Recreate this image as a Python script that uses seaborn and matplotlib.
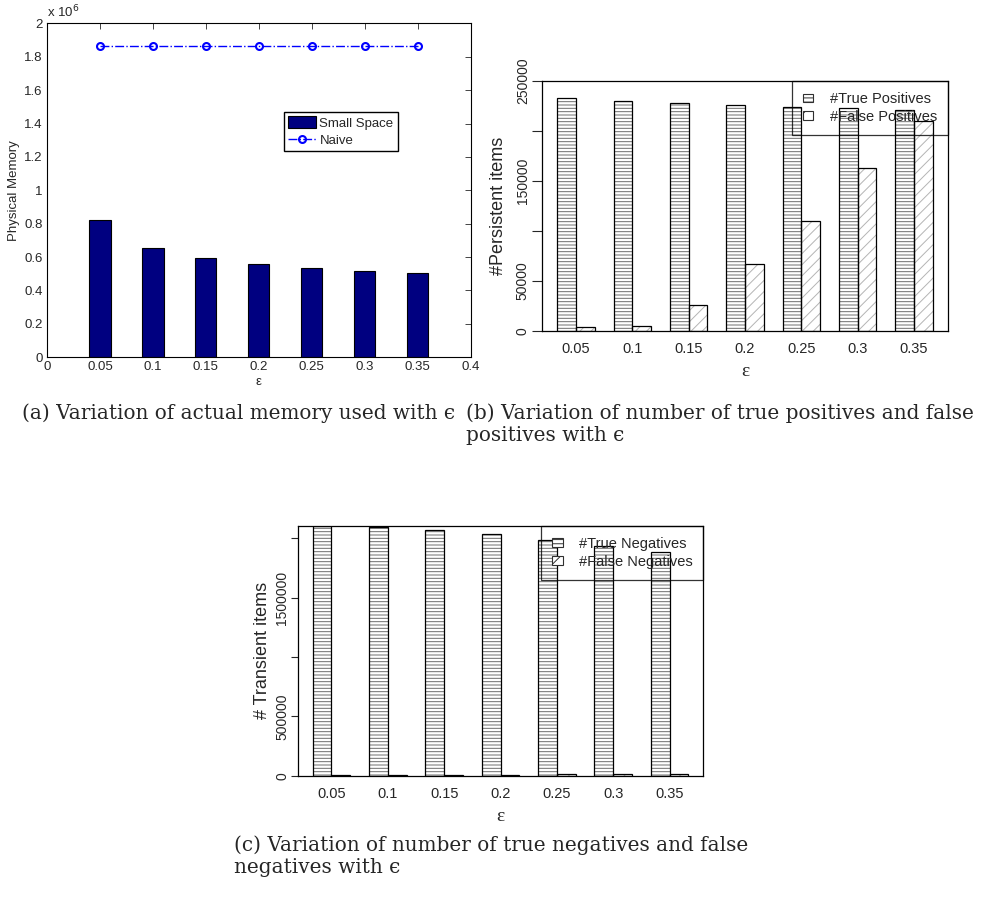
import numpy as np
import pandas as pd
import matplotlib
matplotlib.use("Agg")
import matplotlib.pyplot as plt
from matplotlib.patches import Patch
from matplotlib.lines import Line2D
from matplotlib.ticker import FuncFormatter
import seaborn as sns

sns.set_style("white")
plt.rcParams["font.family"] = ["Liberation Sans", "DejaVu Sans"]
plt.rcParams["hatch.linewidth"] = 0.7

# ---- data -------------------------------------------------------------
eps_values = [0.05, 0.10, 0.15, 0.20, 0.25, 0.30, 0.35]
eps_labels = ["0.05", "0.1", "0.15", "0.2", "0.25", "0.3", "0.35"]

memory_small_space = [822000, 656000, 595000, 557000, 535000, 519000, 507000]
memory_naive = [1866000, 1866000, 1866000, 1866000, 1866000, 1866000, 1866000]

true_positives = [233000, 229700, 228000, 225700, 224000, 222700, 221300]
false_positives = [3700, 5300, 25700, 66800, 110500, 163600, 210000]

true_negatives = [2100000, 2097000, 2073000, 2034000, 1986000, 1936000, 1885000]
false_negatives = [4000, 5000, 7000, 9000, 11000, 12000, 14000]

mem_yticks = [0, 200000, 400000, 600000, 800000, 1000000, 1200000,
              1400000, 1600000, 1800000, 2000000]
mem_xticks = [0, 0.05, 0.1, 0.15, 0.2, 0.25, 0.3, 0.35, 0.4]

pos_yticks = [0, 50000, 100000, 150000, 200000, 250000]
pos_ylabels = ["0", "50000", "", "150000", "", "250000"]
neg_yticks = [0, 500000, 1000000, 1500000, 2000000]
neg_ylabels = ["0", "500000", "", "1500000", ""]

TP_HATCH, FP_HATCH = "-----", "///"
TP_HATCH_COLOR, FP_HATCH_COLOR = "#6e6e6e", "#b4b4b4"

fig = plt.figure(figsize=(9.87, 8.97), dpi=100)
fig.patch.set_facecolor("white")

# ---- (a) memory -------------------------------------------------------
axA = fig.add_axes([0.0476, 0.6017, 0.4293, 0.3723])
sns.barplot(x=eps_values, y=memory_small_space, native_scale=True, width=0.4,
            color="#000080", saturation=1, edgecolor="black", linewidth=0.8,
            errorbar=None, ax=axA)
sns.lineplot(x=eps_values, y=memory_naive, color="blue", linestyle="-.",
             linewidth=1.0, marker="o", markersize=5, markerfacecolor="none",
             markeredgecolor="blue", markeredgewidth=1.5, errorbar=None,
             ax=axA)
axA.set_xlim(0, 0.4)
axA.set_ylim(0, 2000000)
axA.set_xticks(mem_xticks)
axA.set_yticks(mem_yticks)
axA.xaxis.set_major_formatter(FuncFormatter(lambda v, _: f"{v:g}"))
axA.yaxis.set_major_formatter(FuncFormatter(lambda v, _: f"{v / 1e6:g}"))
axA.tick_params(direction="in", top=True, right=True, length=4, width=0.6,
                labelsize=9.5, pad=3)
for s in axA.spines.values():
    s.set_visible(True)
    s.set_linewidth(0.8)
    s.set_color("black")
axA.set_xlabel("ε", fontsize=9.5, labelpad=2)
axA.set_ylabel("Physical Memory", fontsize=9.5, labelpad=3)
axA.text(0.0, 1.008, r"x 10$^{6}$", transform=axA.transAxes, fontsize=9.5,
         ha="left", va="bottom")
legA = axA.legend(
    handles=[Patch(facecolor="#000080", edgecolor="black", linewidth=0.8),
             Line2D([], [], color="blue", linestyle="-.", linewidth=1.0,
                    marker="o", markersize=5, markerfacecolor="none",
                    markeredgewidth=1.5)],
    labels=["Small Space", "Naive"], loc="upper left",
    bbox_to_anchor=(0.559, 0.735), fontsize=9.5, frameon=True,
    fancybox=False, edgecolor="black", framealpha=1, borderpad=0.35,
    handlelength=2.1, handleheight=0.95, handletextpad=0.25,
    labelspacing=0.3, borderaxespad=0)
legA.get_frame().set_linewidth(1.0)


def hatched_bars(ax, df, hue_order, hatches, hatch_colors, ylim, yticks,
                 ylabels, ylabel, tick_len, tick_pad, ylabelpad):
    # hatched fill layer
    sns.barplot(data=df, x="eps", y="count", hue="kind", hue_order=hue_order,
                order=eps_labels, width=2 / 3, palette=["white", "white"],
                saturation=1, linewidth=0, errorbar=None, legend=False, ax=ax)
    for cont, h, hc in zip(ax.containers, hatches, hatch_colors):
        for bar in cont:
            bar.set_hatch(h)
            bar.set_edgecolor(hc)
            bar.set_linewidth(0)
    # black outline layer
    sns.barplot(data=df, x="eps", y="count", hue="kind", hue_order=hue_order,
                order=eps_labels, width=2 / 3, palette=["black", "black"],
                fill=False, linewidth=0.9, errorbar=None, legend=False, ax=ax)
    ax.set_xlim(-0.6, 6.6)
    ax.set_ylim(*ylim)
    ax.set_yticks(yticks)
    ax.set_yticklabels(ylabels, rotation=90, va="center")
    ax.tick_params(axis="y", direction="out", length=tick_len, width=0.8,
                   labelsize=10, pad=tick_pad, left=True)
    ax.tick_params(axis="x", length=0, labelsize=10.5, pad=8)
    for s in ax.spines.values():
        s.set_visible(True)
        s.set_linewidth(0.9)
        s.set_color("black")
    ax.set_xlabel("ε", fontsize=14, family=["Liberation Serif", "DejaVu Serif"],
                  labelpad=5)
    ax.set_ylabel(ylabel, fontsize=13, labelpad=ylabelpad)
    leg = ax.legend(
        handles=[Patch(facecolor="white", edgecolor="#303030", hatch=h,
                       linewidth=0.8) for h in ["----", "//"]],
        labels=hue_order, loc="upper right", borderaxespad=0,
        fontsize=10.5, frameon=True, fancybox=False, edgecolor="black",
        facecolor="none", framealpha=None, borderpad=0.75,
        handlelength=0.75, handleheight=0.55, handletextpad=1.1,
        labelspacing=0.25)
    leg.get_frame().set_linewidth(0.9)


# ---- (b) persistent items --------------------------------------------
axB = fig.add_axes([0.5494, 0.6310, 0.4108, 0.2785])
pos_kinds = ["#True Positives", "#False Positives"]
df_pos = pd.DataFrame({
    "eps": eps_labels * 2,
    "count": true_positives + false_positives,
    "kind": [pos_kinds[0]] * len(eps_labels) + [pos_kinds[1]] * len(eps_labels),
})
hatched_bars(axB, df_pos, pos_kinds, [TP_HATCH, FP_HATCH],
             [TP_HATCH_COLOR, FP_HATCH_COLOR], (0, 250000), pos_yticks,
             pos_ylabels, "#Persistent items", 7, 2, 6)

# ---- (c) transient items ---------------------------------------------
axC = fig.add_axes([0.3016, 0.1352, 0.4110, 0.2784])
neg_kinds = ["#True Negatives", "#False Negatives"]
df_neg = pd.DataFrame({
    "eps": eps_labels * 2,
    "count": true_negatives + false_negatives,
    "kind": [neg_kinds[0]] * len(eps_labels) + [neg_kinds[1]] * len(eps_labels),
})
hatched_bars(axC, df_neg, neg_kinds, [TP_HATCH, FP_HATCH],
             [TP_HATCH_COLOR, FP_HATCH_COLOR], (0, 2104000), neg_yticks,
             neg_ylabels, "# Transient items", 5, 1, 3)

# ---- captions ---------------------------------------------------------
cap_font = dict(family=["DejaVu Serif"], fontsize=14.4, va="top", ha="left",
                linespacing=1.2)
fig.text(0.0223, 1 - 403 / 897, "(a) Variation of actual memory used with ϵ",
         **cap_font)
fig.text(0.4721, 1 - 403 / 897,
         "(b) Variation of number of true positives and false\npositives with ϵ",
         **cap_font)
fig.text(234 / 987, 1 - 835 / 897,
         "(c) Variation of number of true negatives and false\nnegatives with ϵ",
         **cap_font)

fig.savefig("out.png", dpi=100, facecolor="white")
